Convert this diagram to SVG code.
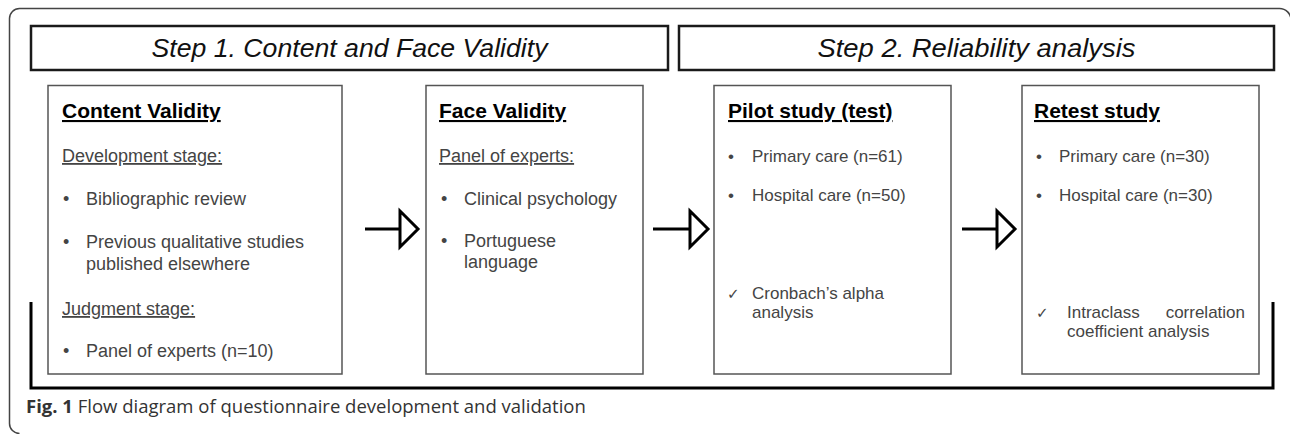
<svg xmlns="http://www.w3.org/2000/svg" width="1290" height="434" viewBox="0 0 1290 434">
<style>
.frame{fill:none;stroke:#444;stroke-width:1.5}
.hdr{fill:#fff;stroke:#1a1a1a;stroke-width:2.5}
.hdrt{font-family:"Liberation Sans",Arial,sans-serif;font-style:italic;font-size:26px;fill:#111;text-anchor:middle}
.box{fill:#fff;stroke:#555;stroke-width:1.5}
.ttl{font-family:"Liberation Sans",Arial,sans-serif;font-weight:bold;font-size:21px;fill:#000;text-decoration:underline}
.sub{font-family:"Liberation Sans",Arial,sans-serif;font-size:18px;fill:#444;text-decoration:underline}
.t18{font-family:"Liberation Sans",Arial,sans-serif;font-size:18px;fill:#444}
.t17{font-family:"Liberation Sans",Arial,sans-serif;font-size:17px;fill:#444}
.chk{font-family:"DejaVu Sans",sans-serif;font-size:15px;fill:#444}
.conn{fill:none;stroke:#000;stroke-width:3}
.brk{fill:none;stroke:#000;stroke-width:3}
.cap{font-family:"Open Sans","Liberation Sans",sans-serif;font-size:18.5px;fill:#333}
</style>
<defs>
<marker id="tri" markerUnits="userSpaceOnUse" markerWidth="26" markerHeight="46" viewBox="-3 -23 26 46" refX="0" refY="0" orient="auto" overflow="visible">
<path d="M0,-18 L18,0 L0,18 Z" fill="#fff" stroke="#000" stroke-width="3" stroke-linejoin="miter"/>
</marker>
</defs>
<path class="frame" d="M1291,20 A11.5 11.5 0 0 0 1279.5,8.5 H19.5 A10 10 0 0 0 9.5,18.5 V423.5 A10 10 0 0 0 19.5,433.5"/>
<g id="step1">
<rect class="hdr" x="31" y="26" width="637" height="44"/>
<text class="hdrt" x="349.5" y="57" textLength="396" lengthAdjust="spacingAndGlyphs">Step 1. Content and Face Validity</text>
</g>
<g id="step2">
<rect class="hdr" x="679" y="26" width="595" height="44"/>
<text class="hdrt" x="976.5" y="57" textLength="318" lengthAdjust="spacingAndGlyphs">Step 2. Reliability analysis</text>
</g>
<g id="bracket">
<path class="brk" d="M31,302 V388 H1273 V302"/>
</g>
<g id="content-validity">
<rect class="box" x="48" y="85.5" width="294" height="288.5"/>
<text class="ttl" x="62" y="118">Content Validity</text>
<text class="sub" x="62" y="162">Development stage:</text>
<text class="t18" x="63" y="205">•</text>
<text class="t18" x="86" y="205">Bibliographic review</text>
<text class="t18" x="63" y="248">•</text>
<text class="t18" x="86" y="248">Previous qualitative studies</text>
<text class="t18" x="86" y="270">published elsewhere</text>
<text class="sub" x="62" y="315">Judgment stage:</text>
<text class="t18" x="63" y="357">•</text>
<text class="t18" x="86" y="357">Panel of experts (n=10)</text>
</g>
<g id="face-validity">
<rect class="box" x="426" y="85.5" width="217" height="288.5"/>
<text class="ttl" x="439" y="118">Face Validity</text>
<text class="sub" x="439" y="162">Panel of experts:</text>
<text class="t18" x="441" y="205">•</text>
<text class="t18" x="464" y="205">Clinical psychology</text>
<text class="t18" x="441" y="247">•</text>
<text class="t18" x="464" y="247">Portuguese</text>
<text class="t18" x="464" y="268">language</text>
</g>
<g id="pilot-study">
<rect class="box" x="714" y="85.5" width="237" height="288.5"/>
<text class="ttl" x="728" y="118">Pilot study (test)</text>
<text class="t17" x="728" y="162">•</text>
<text class="t17" x="752" y="162">Primary care (n=61)</text>
<text class="t17" x="728" y="201">•</text>
<text class="t17" x="752" y="201">Hospital care (n=50)</text>
<text class="chk" x="727" y="299">✓</text>
<text class="t17" x="752" y="299">Cronbach’s alpha</text>
<text class="t17" x="752" y="318">analysis</text>
</g>
<g id="retest-study">
<rect class="box" x="1022" y="85.5" width="237" height="288.5"/>
<text class="ttl" x="1034" y="118">Retest study</text>
<text class="t17" x="1036" y="162">•</text>
<text class="t17" x="1059" y="162">Primary care (n=30)</text>
<text class="t17" x="1036" y="201">•</text>
<text class="t17" x="1059" y="201">Hospital care (n=30)</text>
<text class="chk" x="1036" y="318">✓</text>
<text class="t17" y="318"><tspan x="1067">Intraclass</tspan><tspan x="1245" text-anchor="end">correlation</tspan></text>
<text class="t17" x="1067" y="337">coefficient analysis</text>
</g>
<g id="connectors">
<path class="conn" d="M365,229 H400" marker-end="url(#tri)"/>
<path class="conn" d="M653,229 H690" marker-end="url(#tri)"/>
<path class="conn" d="M962,229 H997" marker-end="url(#tri)"/>
</g>
<text class="cap" x="26" y="413"><tspan font-weight="bold">Fig. 1</tspan> Flow diagram of questionnaire development and validation</text>
</svg>
